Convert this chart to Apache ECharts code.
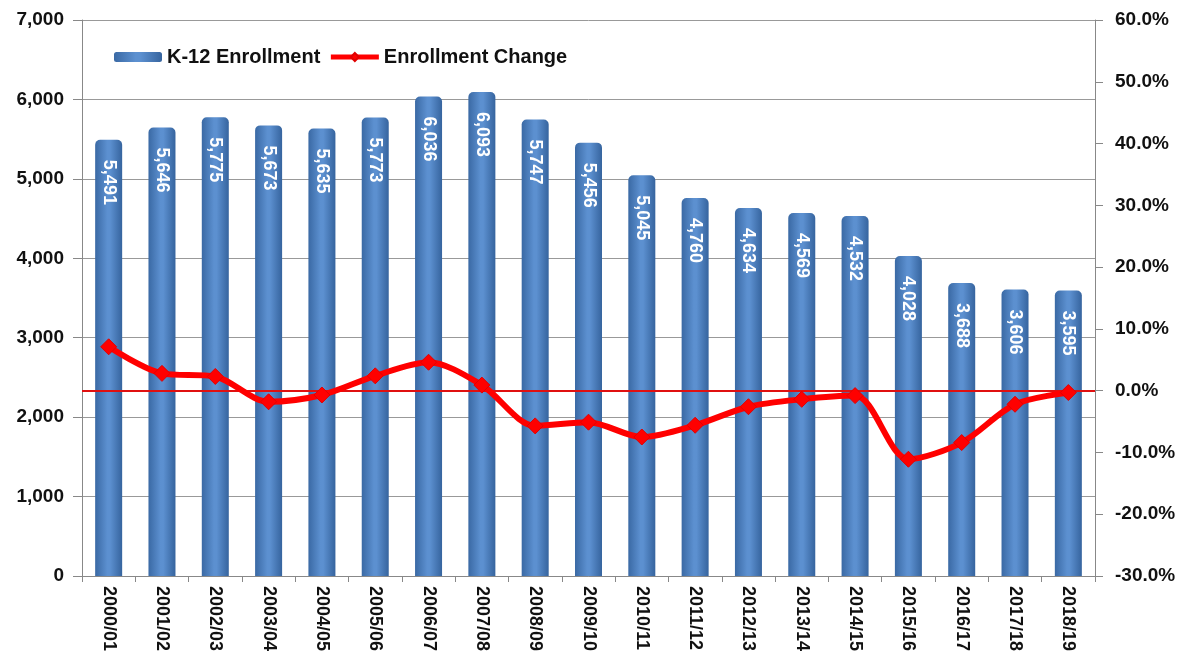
<!DOCTYPE html>
<html>
<head>
<meta charset="utf-8">
<script src="https://cdn.jsdelivr.net/npm/echarts@6/dist/echarts.min.js"></script>
<style>
  html, body { margin: 0; padding: 0; background: #fff; }
  #chart { width: 1182px; height: 664px; }
</style>
</head>
<body>
<div id="chart"></div>
<script>
// School years
const years = ['2000/01','2001/02','2002/03','2003/04','2004/05','2005/06','2006/07','2007/08','2008/09','2009/10',
               '2010/11','2011/12','2012/13','2013/14','2014/15','2015/16','2016/17','2017/18','2018/19'];
// K-12 enrollment per year
const enrollment = [5491, 5646, 5775, 5673, 5635, 5773, 6036, 6093, 5747, 5456,
                    5045, 4760, 4634, 4569, 4532, 4028, 3688, 3606, 3595];
// Year-over-year enrollment change, percent
const changePct = [7.1, 2.8, 2.3, -1.8, -0.7, 2.4, 4.6, 0.9, -5.7, -5.1,
                   -7.5, -5.6, -2.6, -1.4, -0.8, -11.1, -8.4, -2.2, -0.3];

const fmtThousands = v => Number(v).toLocaleString('en-US');
const FONT = 'Liberation Sans, Arial, sans-serif';

const barColor = new echarts.graphic.LinearGradient(0, 0, 1, 0, [
  { offset: 0, color: '#3a69a4' },
  { offset: 0.45, color: '#5c90d0' },
  { offset: 0.55, color: '#5c90d0' },
  { offset: 1, color: '#36649e' }
]);

const chart = echarts.init(document.getElementById('chart'), null, { renderer: 'canvas' });
chart.setOption({
  animation: false,
  backgroundColor: '#ffffff',
  textStyle: { fontFamily: FONT },
  grid: { left: 82, right: 87, top: 20, bottom: 88 },
  legend: {
    left: 108, top: 35,
    padding: [12, 6, 12, 6],
    backgroundColor: '#ffffff',
    itemGap: 8,
    itemWidth: 48, itemHeight: 10,
    textStyle: { fontFamily: FONT, fontWeight: 'bold', fontSize: 20, color: '#111' },
    data: [
      { name: 'K-12 Enrollment', icon: 'roundRect' },
      { name: 'Enrollment Change', itemStyle: { color: '#ff0000' }, lineStyle: { width: 5, color: '#ff0000' } }
    ]
  },
  xAxis: {
    type: 'category',
    data: years,
    axisLine: { lineStyle: { color: '#888', width: 1 } },
    axisTick: { show: true, length: 6, lineStyle: { color: '#888' } },
    axisLabel: {
      rotate: -90, margin: 10,
      fontFamily: FONT, fontWeight: 'bold', fontSize: 18, color: '#111'
    }
  },
  yAxis: [
    {
      type: 'value', min: 0, max: 7000, interval: 1000,
      axisLine: { show: true, lineStyle: { color: '#888' } },
      axisTick: { show: true, length: 9, lineStyle: { color: '#888' } },
      splitLine: { show: true, lineStyle: { color: '#999', width: 1 } },
      axisLabel: {
        margin: 18, formatter: fmtThousands,
        fontFamily: FONT, fontWeight: 'bold', fontSize: 19, color: '#111'
      }
    },
    {
      type: 'value', min: -30, max: 60, interval: 10, position: 'right',
      axisLine: { show: true, lineStyle: { color: '#888' } },
      axisTick: { show: true, length: 8, lineStyle: { color: '#888' } },
      splitLine: { show: false },
      axisLabel: {
        margin: 20, formatter: v => v.toFixed(1) + '%',
        fontFamily: FONT, fontWeight: 'bold', fontSize: 19, color: '#111'
      }
    }
  ],
  series: [
    {
      name: 'K-12 Enrollment',
      type: 'bar',
      yAxisIndex: 0,
      data: enrollment,
      barWidth: 27,
      itemStyle: { color: barColor, borderRadius: [5, 5, 0, 0] },
      label: {
        show: true,
        position: 'insideTop',
        distance: 20,
        rotate: -90,
        align: 'left',
        verticalAlign: 'middle',
        formatter: p => fmtThousands(p.value),
        fontFamily: FONT, fontWeight: 'bold', fontSize: 18, color: '#ffffff'
      }
    },
    {
      name: 'Enrollment Change',
      type: 'line',
      yAxisIndex: 1,
      data: changePct,
      smooth: 0.3,
      symbol: 'diamond',
      symbolSize: 16,
      z: 5,
      lineStyle: { color: '#ff0000', width: 6 },
      itemStyle: { color: '#ff0000', borderColor: '#e00000', borderWidth: 1 },
      markLine: {
        silent: true,
        symbol: 'none',
        label: { show: false },
        lineStyle: { color: '#e01010', width: 2, type: 'solid' },
        data: [{ yAxis: 0 }]
      }
    }
  ]
});
</script>
</body>
</html>
